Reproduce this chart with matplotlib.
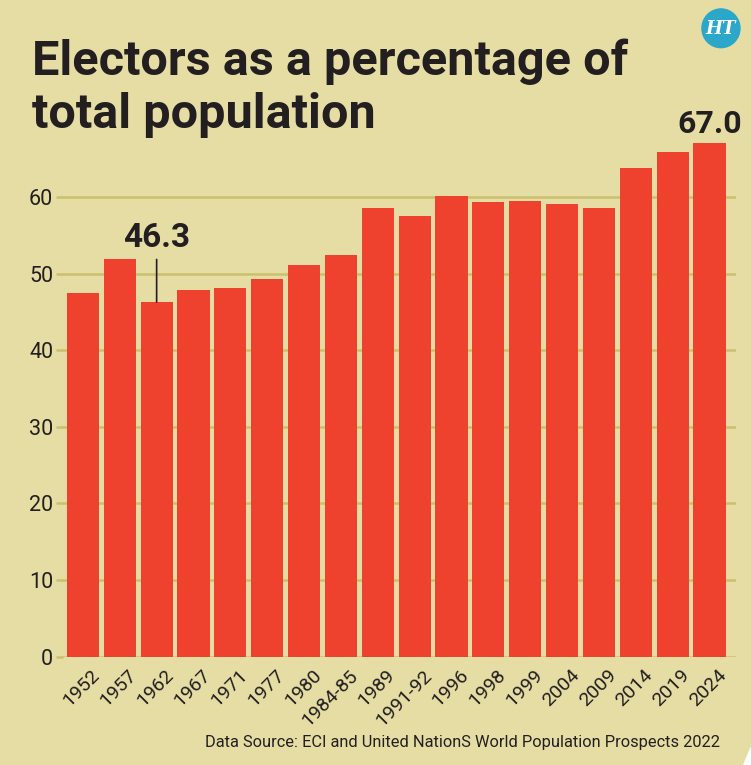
import matplotlib.pyplot as plt
from matplotlib.patches import Circle, Polygon
from matplotlib.transforms import ScaledTranslation

# data
years = ['1952', '1957', '1962', '1967', '1971', '1977', '1980', '1984-85', '1989',
         '1991-92', '1996', '1998', '1999', '2004', '2009', '2014', '2019', '2024']
electors_pct = [47.5, 51.9, 46.3, 47.9, 48.1, 49.3, 51.1, 52.4, 58.6,
                57.5, 60.2, 59.3, 59.5, 59.1, 58.6, 63.8, 65.9, 67.0]
yticks = [0, 10, 20, 30, 40, 50, 60]

bg = '#e6dda4'
bar_col = '#ee412e'
grid_col = '#c9c16d'
ink = '#231f20'
plt.rcParams['font.family'] = ['Roboto', 'DejaVu Sans']

fig = plt.figure(figsize=(7.51, 7.65), dpi=100, facecolor=bg)
ax = fig.add_axes([0.0839, 0.1416, 0.8957, 0.7009])
ax.set_facecolor(bg)

x = range(len(years))
ax.bar(x, electors_pct, width=0.87, color=bar_col, zorder=3)

ax.set_xlim(-0.54, 17.71)
ax.set_ylim(0, 70)
ax.set_yticks(yticks)
ax.set_yticklabels([str(t) for t in yticks], fontsize=15.5, color=ink)
ax.yaxis.grid(True, color=grid_col, linewidth=1.8, zorder=0)
ax.tick_params(axis='y', length=5, width=1.8, color=grid_col, pad=2)
ax.set_xticks(list(x))
ax.set_xticklabels(years, rotation=45, ha='right', va='top', rotation_mode='anchor',
                   fontsize=14, color=ink)
ax.tick_params(axis='x', length=0, pad=7)
shift = ScaledTranslation(0.08, 0, fig.dpi_scale_trans)
for lab in ax.get_xticklabels():
    lab.set_transform(lab.get_transform() + shift)
for s in ax.spines.values():
    s.set_visible(False)

# annotations
ax.annotate('46.3', xy=(2, electors_pct[2]), xytext=(2, 53.5),
            ha='center', va='baseline', fontsize=24, fontweight='bold', color=ink,
            arrowprops=dict(arrowstyle='-', color=ink, lw=1.2, shrinkA=2, shrinkB=0))
ax.text(17, 68.4, '67.0', ha='center', va='baseline', fontsize=23,
        fontweight='bold', color=ink, clip_on=False)

# title
fig.text(0.043, 0.902, 'Electors as a percentage of', ha='left', va='baseline',
         fontsize=35, fontweight='bold', color=ink)
fig.text(0.043, 0.833, 'total population', ha='left', va='baseline',
         fontsize=35, fontweight='bold', color=ink)

# source
fig.text(0.959, 0.023, 'Data Source: ECI and United NationS World Population Prospects 2022',
         ha='right', va='baseline', fontsize=11.8, color=ink)

# HT logo
fig.patches.append(Circle((0.960, 0.963), 0.0253, transform=fig.transFigure,
                          color='#2aa7c9', zorder=5))
fig.text(0.960, 0.962, 'HT', ha='center', va='center', fontsize=13, fontweight='bold',
         style='italic', family='DejaVu Serif', color='white', zorder=6)

# cut corner bottom right
fig.patches.append(Polygon([(0.99, 0.0), (1.0, 0.0), (1.0, 0.025)], closed=True,
                           transform=fig.transFigure, color='white', zorder=5))

fig.savefig('out.png', dpi=100, facecolor=bg)
